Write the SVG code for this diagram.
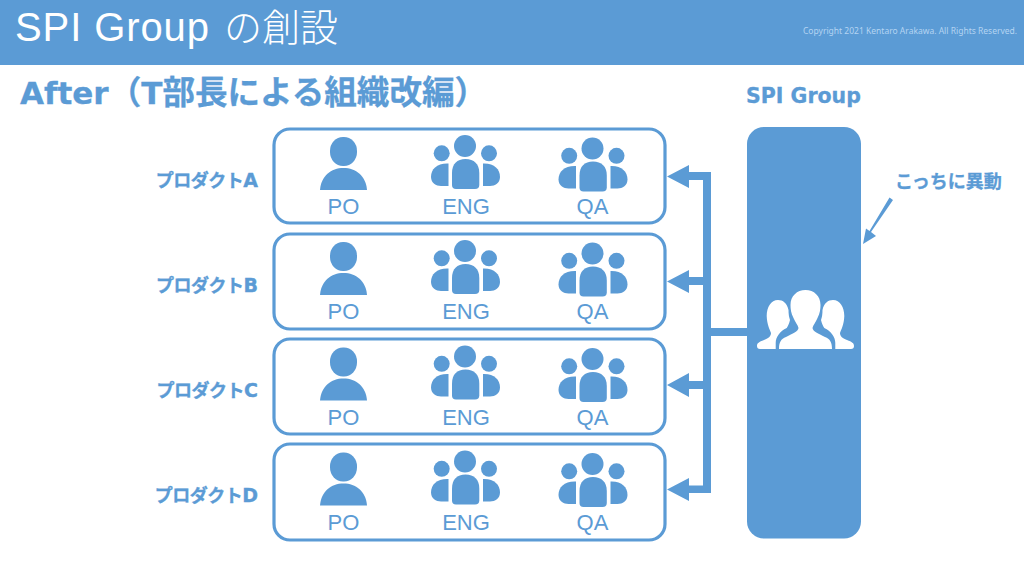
<svg xmlns="http://www.w3.org/2000/svg" width="1024" height="576" viewBox="0 0 1024 576">
<style>
text{font-family:"DejaVu Sans","Noto Sans CJK JP",sans-serif;fill:#5b9bd5}
.b{font-weight:700;stroke:#5b9bd5;stroke-width:.3}
.jp{font-family:"Noto Sans CJK JP",sans-serif}
.role{font-family:"Liberation Sans",sans-serif;font-size:22px;text-anchor:middle}
.prod{font-size:19px;font-weight:700;stroke:#5b9bd5;stroke-width:.35;text-anchor:end}
.prod .jp{font-size:18px;letter-spacing:-.5px}
.box{fill:#fff;stroke:#5b9bd5;stroke-width:3.200}
.ic{fill:#5b9bd5}
.conn{fill:#5b9bd5}
</style>
<defs>
<g id="po" class="ic">
<rect x="330" y="137" width="27" height="29" rx="13" ry="14"/>
<path d="M320 190C321 176 331 168 343.500 168C356 168 366 176 367 190Z"/>
</g>
<g id="grp" class="ic">
<circle cx="465" cy="146" r="11"/>
<circle cx="441.700" cy="153.300" r="8"/>
<circle cx="489" cy="153.300" r="8"/>
<path d="M452 173C452 164 457 159 465.500 159C474 159 479.300 164 479.300 173V185Q479.300 189 475 189H456Q452 189 452 185Z"/>
<path d="M448.500 163.500C437 163 431 169 431 177C431 183 436 186 441 186H448.500Z"/>
<path d="M483 163.500C494 163 500 169 500 177C500 183 495 186 490 186H483Z"/>
</g>
<g id="row">
<use href="#po"/>
<use href="#grp"/>
<use href="#grp" x="127.500" y="2.500"/>
<text class="role" x="343.500" y="214">PO</text>
<text class="role" x="466" y="214">ENG</text>
<text class="role" x="592.500" y="214">QA</text>
</g>
<path id="side" d="M757 346C757 343 759 342 764 340C769 338 771 336 771 333C770 330 767 325 766.700 316C766.700 307 771 300 778 300C783 300 787 303 788.500 310C788.500 314 789 317 790 320C789 324 788 326 786.700 328C780 331 775.700 337 775.700 343V349H760C758 349 757 348 757 346Z"/>
</defs>
<rect id="header" x="0" y="0" width="1024" height="65" fill="#5b9bd5"/>
<text x="15" y="41" font-size="40" letter-spacing="0.900" style="font-family:'Liberation Sans',sans-serif;fill:#fff">SPI Group</text>
<text x="224" y="41" font-size="38" class="jp" font-weight="300" style="fill:#fff">の創設</text>
<text x="803" y="34" font-size="8.500" style="font-family:'Noto Sans',sans-serif;fill:#b4d4f2">Copyright 2021 Kentaro Arakawa. All Rights Reserved.</text>
<text x="20" y="104" font-size="31" class="b">After<tspan class="jp" font-size="32.600">（</tspan>T<tspan class="jp" font-size="32.600">部長による組織改編）</tspan></text>
<text x="746" y="103" font-size="20.500" class="b">SPI Group</text>
<g id="connectors" class="conn">
<path d="M703 172H689V165L667 176.500L689 188V180H703V277H689V270L667 281.500L689 293V285H703V381H689V373L667 385L689 397V389H703V485.500H689V478L667 489.500L689 501V493H711V336H747V328H711V172Z"/>
<path d="M889.500 197.500L893 200L871 232L876 236L863 244L866 228.500L869.500 231Z"/>
</g>
<g id="product-a"><rect class="box" x="274" y="129" width="391" height="94" rx="16"/><use href="#row"/><text class="prod" x="258" y="187"><tspan class="jp">プロダクト</tspan>A</text></g>
<g id="product-b"><rect class="box" x="274" y="234" width="391" height="95" rx="16"/><use href="#row" y="105"/><text class="prod" x="258" y="292"><tspan class="jp">プロダクト</tspan>B</text></g>
<g id="product-c"><rect class="box" x="274" y="339" width="391" height="95" rx="16"/><use href="#row" y="210.500"/><text class="prod" x="258" y="397"><tspan class="jp">プロダクト</tspan>C</text></g>
<g id="product-d"><rect class="box" x="274" y="444" width="391" height="96" rx="16"/><use href="#row" y="315.500"/><text class="prod" x="258" y="502"><tspan class="jp">プロダクト</tspan>D</text></g>
<g id="spi-group">
<rect x="747" y="127" width="114" height="411.500" rx="17" fill="#5b9bd5"/>
<g fill="#fff">
<use href="#side"/>
<use href="#side" transform="matrix(-1 0 0 1 1611 0)"/>
<path d="M779 349C779 342 781 339 786 337C793 333 798 332 798.500 328C798 325 795 322 793.500 318C791 313 790.500 309 790.500 305C790.500 296 797 290 805.500 290C814 290 820.500 296 820.500 305C820.500 309 820 313 817.500 318C816 322 813 325 812.500 328C813 332 818 333 825 337C830 339 832 342 832 349Z"/>
</g>
</g>
<text id="note" x="895" y="188" font-size="18" class="b jp">こっちに異動</text>
</svg>
